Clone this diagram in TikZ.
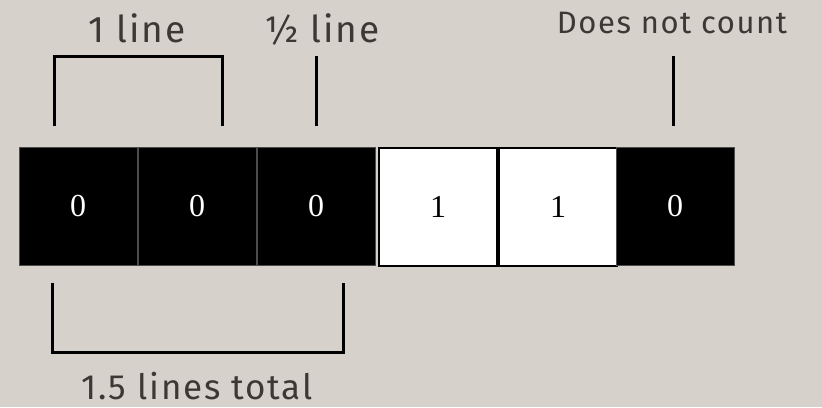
\documentclass[tikz,border=0pt]{standalone}
\usepackage{fontspec}
\setmainfont[LetterSpace=5]{Fira Sans}
\newfontfamily\digitfont{Liberation Serif}
\definecolor{paper}{HTML}{D6D1CB}
\definecolor{ink}{HTML}{3C3833}
\tikzset{
  cell/.style={minimum width=118pt, minimum height=118pt, inner sep=0pt,
    font=\digitfont\fontsize{32}{32}\selectfont},
  zerocell/.style={cell, fill=black, draw=black!70, line width=0.6pt, text=white},
  onecell/.style={cell, fill=white, draw=black, line width=1.5pt, text=black},
  bracket/.style={line width=3pt, draw=black},
  label/.style={text=ink, inner sep=0pt, anchor=base}
}
\begin{document}
\begin{tikzpicture}[x=1pt, y=-1pt]
  \fill[paper] (0,0) rectangle (822,407);
  \useasboundingbox (0,0) rectangle (822,407);

  % the row of bits
  \node[zerocell] (c1) at (78,206) {0};
  \node[zerocell] (c2) at (197,206) {0};
  \node[zerocell] (c3) at (316,206) {0};
  \node[onecell]  (c4) at (438,207) {1};
  \node[onecell]  (c5) at (558,207) {1};
  \node[zerocell] (c6) at (675,206) {0};

  % upper markers
  \coordinate (a1) at (54,126);
  \coordinate (a2) at (54,56);
  \coordinate (a3) at (222,56);
  \coordinate (a4) at (222,126);
  \draw[bracket] (a1) -- (a2) -- (a3) -- (a4);
  \coordinate (h1) at (316,56);
  \coordinate (h2) at (316,126);
  \draw[bracket] (h1) -- (h2);
  \coordinate (d1) at (673,56);
  \coordinate (d2) at (673,126);
  \draw[bracket] (d1) -- (d2);

  % lower bracket
  \coordinate (b1) at (52,283);
  \coordinate (b2) at (52,352);
  \coordinate (b3) at (343,352);
  \coordinate (b4) at (343,283);
  \draw[bracket] (b1) -- (b2) -- (b3) -- (b4);

  % labels
  \node[label, font=\fontsize{37}{37}\selectfont] (l1) at (137,42) {1 line};
  \node[label, font=\fontsize{37}{37}\selectfont] (l2) at (322,42) {½ line};
  \node[label, font=\fontsize{31}{31}\selectfont] (l3) at (672,33) {Does not count};
  \node[label, font=\fontsize{35}{35}\selectfont] (l4) at (197,399) {1.5 lines total};
\end{tikzpicture}
\end{document}
